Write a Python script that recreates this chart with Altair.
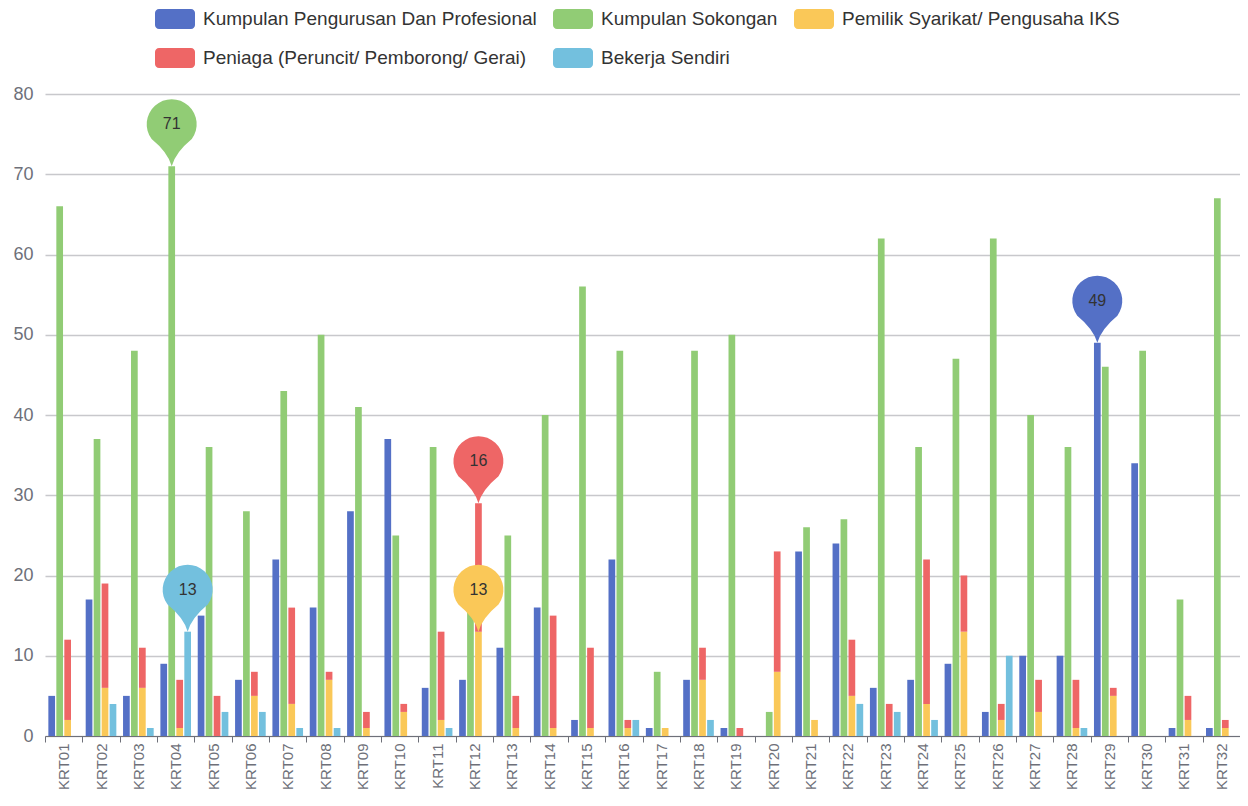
import altair as alt
import pandas as pd

categories = [f"KRT{i:02d}" for i in range(1, 33)]

series_names = [
    "Kumpulan Pengurusan Dan Profesional",
    "Kumpulan Sokongan",
    "Pemilik Syarikat/ Pengusaha IKS",
    "Peniaga (Peruncit/ Pemborong/ Gerai)",
    "Bekerja Sendiri",
]
series_colors = ["#5470c6", "#91cc75", "#fac858", "#ee6666", "#73c0de"]

pengurusan = [5, 17, 5, 9, 15, 7, 22, 16, 28, 37, 6, 7, 11, 16, 2, 22, 1, 7, 1, 0, 23, 24, 6, 7, 9, 3, 10, 10, 49, 34, 1, 1]
sokongan = [66, 37, 48, 71, 36, 28, 43, 50, 41, 25, 36, 17, 25, 40, 56, 48, 8, 48, 50, 3, 26, 27, 62, 36, 47, 62, 40, 36, 46, 48, 17, 67]
pemilik = [2, 6, 6, 1, 0, 5, 4, 7, 1, 3, 2, 13, 1, 1, 1, 1, 1, 7, 0, 8, 2, 5, 0, 4, 13, 2, 3, 1, 5, 0, 2, 1]
peniaga = [10, 13, 5, 6, 5, 3, 12, 1, 2, 1, 11, 16, 4, 14, 10, 1, 0, 4, 1, 15, 0, 7, 4, 18, 7, 2, 4, 6, 1, 0, 3, 1]
sendiri = [0, 4, 1, 13, 3, 3, 1, 1, 0, 0, 1, 0, 0, 0, 0, 2, 0, 2, 0, 0, 0, 4, 3, 2, 0, 10, 0, 1, 0, 0, 0, 0]

# pins: (series index, category)
pin_series = [1, 4, 3, 2, 0]
pin_categories = ["KRT04", "KRT04", "KRT12", "KRT12", "KRT29"]

values = [pengurusan, sokongan, pemilik, peniaga, sendiri]
groups = ["a", "b", "c", "c", "d"]

rows = []
for ci, cat in enumerate(categories):
    for si, name in enumerate(series_names):
        v = values[si][ci]
        y0 = 0
        if si == 3:  # stacked on top of Pemilik
            y0 = pemilik[ci]
        rows.append({"cat": cat, "series": name, "group": groups[si],
                     "y0": y0, "y1": y0 + v, "value": v})
df = pd.DataFrame(rows)

pin_rows = []
for si, cat in zip(pin_series, pin_categories):
    r = df[(df.cat == cat) & (df.series == series_names[si])].iloc[0]
    pin_rows.append({"cat": cat, "group": groups[si], "ytip": r.y1,
                     "label": str(int(r.value)), "pcolor": series_colors[si]})
pins = pd.DataFrame(pin_rows)

pin_path = ("M0,0 Q-0.15,-0.55 -0.803,-1.085 A1,1 0 1 1 0.803,-1.085 "
            "Q0.15,-0.55 0,0 Z")
legend_path = ("M-0.8,-0.5 H0.8 A0.2,0.2 0 0 1 1,-0.3 V0.3 A0.2,0.2 0 0 1 0.8,0.5 "
               "H-0.8 A0.2,0.2 0 0 1 -1,0.3 V-0.3 A0.2,0.2 0 0 1 -0.8,-0.5 Z")

font = "Liberation Sans"

x_enc = alt.X("cat:N", sort=categories,
              scale=alt.Scale(paddingInner=0, paddingOuter=0),
              axis=alt.Axis(title=None, labelAngle=-90, labelFontSize=15,
                            labelColor="#6e7079", labelFont=font, labelPadding=1,
                            tickBand="extent", ticks=True, tickSize=6,
                            tickColor="#6e7079", domainColor="#6e7079",
                            grid=False))
xo_enc = alt.XOffset("group:N", sort=["a", "b", "c", "d"],
                     scale=alt.Scale(paddingInner=0.16, paddingOuter=0.42))

bars = alt.Chart(df).mark_bar().encode(
    x=x_enc,
    xOffset=xo_enc,
    y=alt.Y("y1:Q", scale=alt.Scale(domain=[0, 80], nice=False),
            axis=alt.Axis(title=None, values=list(range(0, 81, 10)),
                          labelFontSize=18, labelColor="#6e7079", labelFont=font,
                          labelPadding=12, domain=False, ticks=False,
                          grid=True, gridColor="#c8c8cc", gridWidth=1.5)),
    y2="y0:Q",
    color=alt.Color("series:N", sort=series_names,
                    scale=alt.Scale(domain=series_names, range=series_colors),
                    legend=alt.Legend(title=None, orient="none", legendX=110,
                                      legendY=-95, direction="horizontal",
                                      columns=3, gridAlign="none",
                                      symbolType=legend_path, symbolSize=1600,
                                      symbolStrokeWidth=0, symbolOpacity=1,
                                      labelFontSize=19, labelColor="#333333",
                                      labelFont=font, labelOffset=8,
                                      columnPadding=16, rowPadding=9,
                                      labelLimit=600, padding=0)),
)

pin_marks = alt.Chart(pins).mark_point(
    shape=pin_path, size=2500, filled=True, opacity=1, strokeWidth=0
).encode(
    x=alt.X("cat:N", sort=categories),
    xOffset=alt.XOffset("group:N", sort=["a", "b", "c", "d"]),
    y="ytip:Q",
    fill=alt.Fill("pcolor:N", scale=None),
)

pin_text = alt.Chart(pins).mark_text(
    dy=-42, fontSize=16, color="#333333", font=font, baseline="middle"
).encode(
    x=alt.X("cat:N", sort=categories),
    xOffset=alt.XOffset("group:N", sort=["a", "b", "c", "d"]),
    y="ytip:Q",
    text="label:N",
)

chart = alt.layer(bars, pin_marks, pin_text).properties(
    width=1195, height=642,
    autosize=alt.AutoSizeParams(type="none"),
    padding={"left": 37, "top": 86, "right": 0, "bottom": 56},
).configure_view(stroke=None)

chart.save("out.html", embed_options={"renderer": "svg", "actions": False})
